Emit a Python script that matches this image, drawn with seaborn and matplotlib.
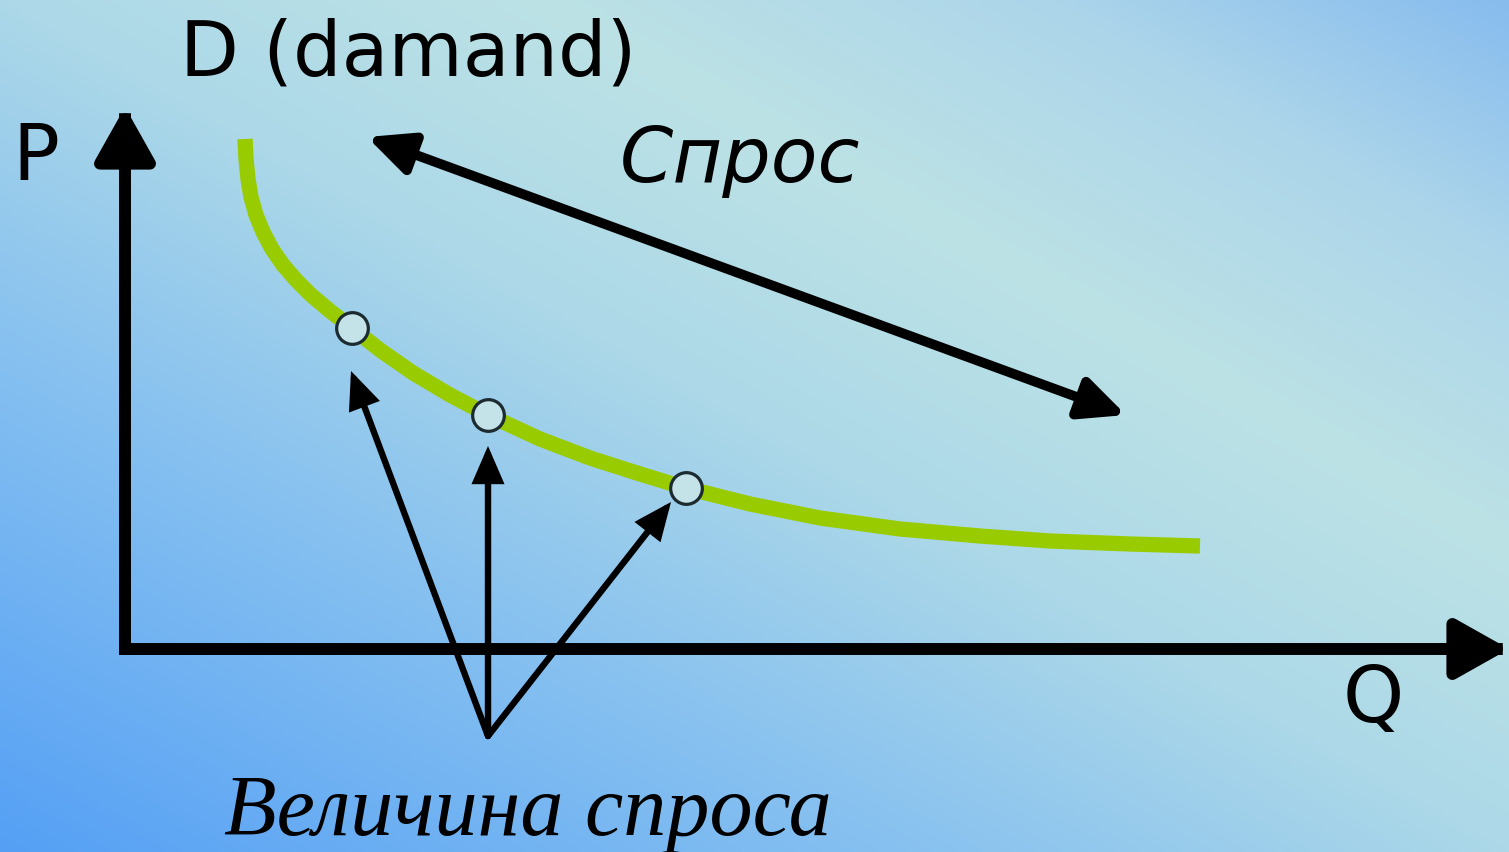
import numpy as np
import pandas as pd
import matplotlib
matplotlib.use("Agg")
import matplotlib.pyplot as plt
import seaborn as sns

# ---- data (diagram coordinates, x to the right, y downward) ----
curve_q = [245, 246, 248, 251, 256, 263, 272, 283, 296, 311, 330, 352, 380, 413, 450, 488,
           540, 590, 640, 686, 750, 820, 900, 980, 1050, 1130, 1200]
curve_p = [140, 160, 180, 198, 216, 233, 250, 266, 281, 296, 312, 329, 351, 374, 396, 416,
           440, 459, 475, 489, 505, 519, 530, 537, 542, 545, 547]
point_q = [352, 488, 686]
point_p = [329, 416, 489]
pointer_tips_q = [351, 488, 671]
pointer_tips_p = [372, 447, 503]
pointer_base = (488, 737)
shift_from = (367, 138)
shift_to = (1126, 416)
labels = {"title": "D (damand)", "p": "P", "q": "Q", "shift": "Спрос", "qty": "Величина спроса"}

W, H = 1509, 853

sns.set_theme(style="white")
plt.rcParams['font.family'] = ['DejaVu Sans']

fig = plt.figure(figsize=(W / 100, H / 100), dpi=100)
ax = fig.add_axes([0, 0, 1, 1])
ax.set_xlim(0, W)
ax.set_ylim(H, 0)
ax.axis("off")

# ---- gradient background ----
xs = np.linspace(0, 1, 300)
ys = np.linspace(0, 1, 170)
XX, YY = np.meshgrid(xs, ys)
T = (XX + (1 - YY)) / 2
stops_t = [0.0, 0.3, 0.5, 0.68, 0.85, 1.0]
stops_c = np.array([(85, 160, 245), (135, 193, 240), (172, 216, 232),
                    (188, 226, 229), (172, 213, 234), (135, 188, 238)]) / 255.0
img = np.zeros(T.shape + (3,))
for k in range(3):
    img[..., k] = np.interp(T, stops_t, stops_c[:, k])
ax.imshow(img, extent=[0, W, H, 0], aspect="auto", zorder=0, interpolation="bilinear")

# ---- demand curve ----
df = pd.DataFrame({"Q": curve_q, "P": curve_p})
sns.lineplot(data=df, x="Q", y="P", ax=ax, color="#99CC00", linewidth=11, sort=False,
             solid_capstyle="butt", solid_joinstyle="round", zorder=3)

# ---- axes arrows ----
axis_style = "-|>,head_length=0.8,head_width=0.45"
ax.annotate("", xy=(125, 108), xytext=(125, 650),
            arrowprops=dict(arrowstyle=axis_style, mutation_scale=40,
                            lw=8.6, color="black", shrinkA=0, shrinkB=0,
                            capstyle="projecting"), zorder=4)
ax.annotate("", xy=(1509, 650), xytext=(125, 650),
            arrowprops=dict(arrowstyle=axis_style, mutation_scale=40,
                            lw=8.6, color="black", shrinkA=0, shrinkB=0,
                            capstyle="projecting"), zorder=4)

# ---- shift arrow (double headed) ----
ax.annotate("", xy=shift_to, xytext=shift_from,
            arrowprops=dict(arrowstyle="<|-|>,head_length=0.9,head_width=0.42", mutation_scale=30,
                            lw=7, color="black", shrinkA=0, shrinkB=0), zorder=4)

# ---- pointer arrows ----
for tq, tp in zip(pointer_tips_q, pointer_tips_p):
    ax.annotate("", xy=(tq, tp), xytext=pointer_base,
                arrowprops=dict(arrowstyle="-|>,head_length=0.97,head_width=0.42", mutation_scale=20,
                                lw=4.6, color="black", shrinkA=0, shrinkB=0,
                                joinstyle="miter", capstyle="round"), zorder=4)

# ---- points on the curve ----
pts = pd.DataFrame({"Q": point_q, "P": point_p})
sns.scatterplot(data=pts, x="Q", y="P", ax=ax, s=520, color="#c4e3e9",
                edgecolor="#1b2b30", linewidth=2.3, zorder=5)

# ---- text ----
ax.text(180, 75, labels["title"], fontsize=55, va="baseline", ha="left", color="black", zorder=6)
ax.text(12, 180, labels["p"], fontsize=56, va="baseline", ha="left", color="black", zorder=6)
ax.text(1343, 722, labels["q"], fontsize=56, va="baseline", ha="left", color="black", zorder=6)
ax.text(620, 182, labels["shift"], fontsize=55, style="italic", va="baseline", ha="left",
        color="black", zorder=6)
ax.text(224, 835, labels["qty"], fontsize=62, style="italic", va="baseline", ha="left",
        color="black", family=["Liberation Serif", "DejaVu Serif"], zorder=6)

ax.set_xlabel("")
ax.set_ylabel("")
fig.savefig("out.png", dpi=100)
